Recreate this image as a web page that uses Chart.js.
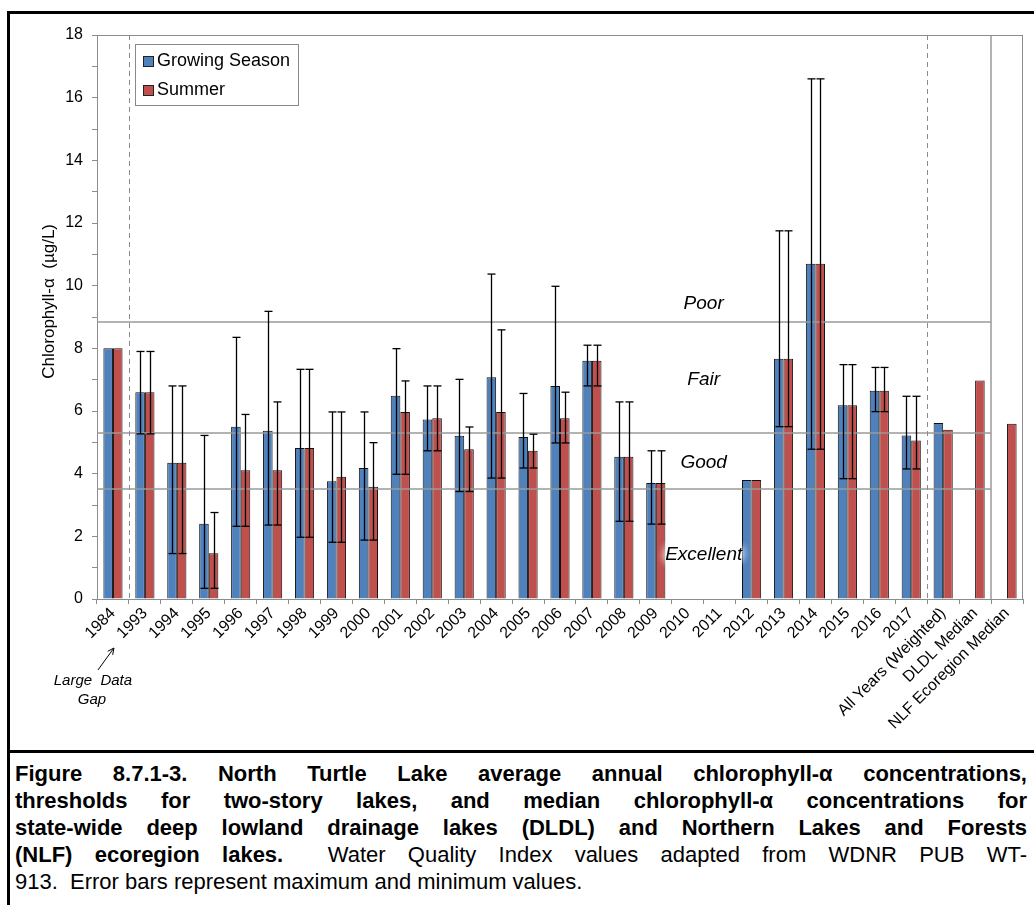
<!DOCTYPE html>
<html>
<head>
<meta charset="utf-8">
<script src="https://cdn.jsdelivr.net/npm/chart.js@4/dist/chart.umd.min.js"></script>
<style>
  body { margin: 0; background: #fff; }
  #page { position: relative; width: 1034px; height: 905px; overflow: hidden; font-family: "Liberation Sans", Arial, sans-serif; }
  #frame { position: absolute; left: 7px; top: 11px; width: 1040px; height: 900px; border: 3px solid #000; box-sizing: border-box; }
  #rule { position: absolute; left: 7px; top: 750px; width: 1040px; height: 3px; background: #000; }
  #chart { position: absolute; left: 0; top: 0; }
  #caption { position: absolute; left: 15px; top: 760px; width: 1012px; font-size: 22px; line-height: 27px; color: #000; }
  #caption .ln { white-space: nowrap; }
  #caption .j { text-align: justify; text-align-last: justify; }
</style>
</head>
<body>
<div id="page">
  <div id="frame"></div>
  <canvas id="chart" width="1034" height="750"></canvas>
  <div id="rule"></div>
  <div id="caption">
    <div class="ln j"><b>Figure 8.7.1-3. North Turtle Lake average annual chlorophyll-α concentrations,</b></div>
    <div class="ln j"><b>thresholds for two-story lakes, and median chlorophyll-α concentrations for</b></div>
    <div class="ln j"><b>state-wide deep lowland drainage lakes (DLDL) and Northern Lakes and Forests</b></div>
    <div class="ln j"><b>(NLF) ecoregion lakes.</b>&nbsp; Water Quality Index values adapted from WDNR PUB WT-</div>
    <div class="ln">913.&nbsp; Error bars represent maximum and minimum values.</div>
  </div>
</div>
<script>
const categories = ['1984', '1993', '1994', '1995', '1996', '1997', '1998', '1999', '2000',
  '2001', '2002', '2003', '2004', '2005', '2006', '2007', '2008', '2009', '2010', '2011',
  '2012', '2013', '2014', '2015', '2016', '2017',
  'All Years (Weighted)', 'DLDL Median', 'NLF Ecoregion Median'];

const growingSeason = [8.0, 6.6, 4.35, 2.4, 5.5, 5.37, 4.82, 3.76, 4.18,
  6.49, 5.73, 5.21, 7.08, 5.17, 6.8, 7.6, 4.54, 3.7, null, null,
  3.8, 7.67, 10.7, 6.18, 6.65, 5.22,
  5.62, null, null];
const summer = [8.0, 6.6, 4.35, 1.46, 4.11, 4.11, 4.82, 3.9, 3.58,
  5.97, 5.77, 4.78, 5.97, 4.73, 5.77, 7.6, 4.54, 3.7, null, null,
  3.8, 7.67, 10.7, 6.18, 6.65, 5.06,
  5.4, 6.97, 5.59];

// error bars: max / min of each year's samples
const growingMax = [null, 7.9, 6.8, 5.22, 8.35, 9.18, 7.33, 5.97, 5.97,
  7.99, 6.8, 7.01, 10.37, 6.56, 9.98, 8.1, 6.29, 4.73, null, null,
  null, 11.75, 16.6, 7.48, 7.39, 6.47, null, null, null];
const growingMin = [null, 5.27, 1.45, 0.34, 2.32, 2.36, 1.97, 1.81, 1.88,
  3.98, 4.73, 3.43, 3.86, 4.18, 4.98, 6.8, 2.48, 2.39, null, null,
  null, 5.5, 4.78, 3.84, 5.98, 4.15, null, null, null];
const summerMax = [null, 7.9, 6.8, 2.76, 5.89, 6.29, 7.33, 5.97, 4.99,
  6.96, 6.8, 5.49, 8.59, 5.26, 6.6, 8.1, 6.29, 4.73, null, null,
  null, 11.75, 16.6, 7.48, 7.39, 6.47, null, null, null];
const summerMin = [null, 5.27, 1.45, 0.34, 2.32, 2.36, 1.97, 1.81, 1.88,
  3.98, 4.73, 3.43, 3.86, 4.18, 4.98, 6.8, 2.48, 2.39, null, null,
  null, 5.5, 4.78, 3.84, 5.98, 4.15, null, null, null];

// Water Quality Index boundaries (Poor/Fair, Fair/Good, Good/Excellent)
const thresholds = [8.83, 5.3, 3.51];
const qualityLabels = ['Poor', 'Fair', 'Good', 'Excellent'];
const qualityLabelAt = [9.42, 6.99, 4.35, 1.4];

const FONT = '"Liberation Sans", Arial, sans-serif';
const BLUE = '#4F81BD';
const RED = '#C0504D';
const AXIS = '#8c8c8c';

function line(ctx, x1, y1, x2, y2) {
  ctx.beginPath();
  ctx.moveTo(x1, y1);
  ctx.lineTo(x2, y2);
  ctx.stroke();
}

const overlay = {
  id: 'overlay',
  afterDatasetsDraw(chart) {
    const { ctx, chartArea: a, scales: { x, y } } = chart;
    const mid = (i, j) => (x.getPixelForValue(i) + x.getPixelForValue(j)) / 2;
    const gapX = Math.round(mid(0, 1)) + 0.5;
    const allX = Math.round(mid(25, 26)) + 0.5;
    const nlfX = Math.round(mid(27, 28));
    ctx.save();

    // index thresholds
    ctx.strokeStyle = '#9a9a9a';
    ctx.lineWidth = 1.5;
    thresholds.forEach(v => {
      const py = Math.round(y.getPixelForValue(v));
      line(ctx, a.left, py, nlfX, py);
    });

    // separators
    ctx.lineWidth = 1;
    ctx.strokeStyle = '#8a8a8a';
    ctx.setLineDash([5, 4]);
    line(ctx, gapX, a.top, gapX, a.bottom);
    line(ctx, allX, a.top, allX, a.bottom);
    ctx.setLineDash([]);
    ctx.lineWidth = 1.5;
    ctx.strokeStyle = '#9a9a9a';
    line(ctx, nlfX, a.top, nlfX, a.bottom);

    // min / max error bars
    ctx.strokeStyle = '#000';
    ctx.lineWidth = 1.3;
    [[0, growingMax, growingMin], [1, summerMax, summerMin]].forEach(([d, hi, lo]) => {
      chart.getDatasetMeta(d).data.forEach((bar, i) => {
        if (hi[i] == null) return;
        const yt = y.getPixelForValue(hi[i]);
        const yb = y.getPixelForValue(lo[i]);
        const bx = Math.round(bar.x) + 0.5;
        line(ctx, bx, yt, bx, yb);
        line(ctx, bx - 4, yt, bx + 4, yt);
        line(ctx, bx - 4, yb, bx + 4, yb);
      });
    });

    // quality labels
    const lx = mid(18, 19);
    ctx.font = 'italic 19px ' + FONT;
    ctx.textAlign = 'center';
    ctx.textBaseline = 'middle';
    qualityLabels.forEach((t, i) => {
      const ly = y.getPixelForValue(qualityLabelAt[i]);
      if (t === 'Excellent') {
        ctx.save();
        ctx.shadowColor = '#fff';
        ctx.shadowBlur = 8;
        ctx.fillStyle = '#fff';
        for (let k = 0; k < 4; k++) ctx.fillText(t, lx, ly);
        ctx.restore();
      }
      ctx.fillStyle = '#000';
      ctx.fillText(t, lx, ly);
    });
    ctx.restore();
  },
  afterDraw(chart) {
    const { ctx, chartArea: a, scales: { x, y } } = chart;
    ctx.save();

    // plot frame (top and right)
    ctx.strokeStyle = AXIS;
    ctx.lineWidth = 1;
    line(ctx, a.left, a.top + 0.5, a.right, a.top + 0.5);
    line(ctx, a.right - 0.5, a.top, a.right - 0.5, a.bottom);

    // y axis title
    ctx.save();
    ctx.translate(49, y.getPixelForValue(9.5));
    ctx.rotate(-Math.PI / 2);
    ctx.font = '17px ' + FONT;
    ctx.fillStyle = '#000';
    ctx.textAlign = 'center';
    ctx.textBaseline = 'middle';
    ctx.fillText('Chlorophyll-α  (µg/L)', 0, 0);
    ctx.restore();

    // legend
    const lgX = a.left + 38, lgY = a.top + 9;
    ctx.fillStyle = '#fff';
    ctx.fillRect(lgX, lgY, 163, 61);
    ctx.strokeStyle = '#8a8a8a';
    ctx.strokeRect(lgX + 0.5, lgY + 0.5, 163, 61);
    ctx.font = '18px ' + FONT;
    ctx.textAlign = 'left';
    ctx.textBaseline = 'middle';
    chart.data.datasets.forEach((ds, i) => {
      const ry = lgY + 12 + i * 29;
      ctx.fillStyle = ds.backgroundColor;
      ctx.fillRect(lgX + 8, ry, 10, 10);
      ctx.strokeStyle = '#222';
      ctx.strokeRect(lgX + 8.5, ry + 0.5, 10, 10);
      ctx.fillStyle = '#000';
      ctx.fillText(ds.label, lgX + 22, ry + 5);
    });

    // note under the first gap
    const gx = (x.getPixelForValue(0) + x.getPixelForValue(1)) / 2;
    const tail = [gx - 31, a.bottom + 71], head = [gx - 15, a.bottom + 49];
    ctx.strokeStyle = '#000';
    ctx.lineWidth = 1;
    line(ctx, tail[0], tail[1], head[0], head[1]);
    const ang = Math.atan2(head[1] - tail[1], head[0] - tail[0]);
    [0.45, -0.45].forEach(d => {
      line(ctx, head[0], head[1], head[0] - 7 * Math.cos(ang + d), head[1] - 7 * Math.sin(ang + d));
    });
    ctx.font = 'italic 15px ' + FONT;
    ctx.textAlign = 'center';
    ctx.fillStyle = '#000';
    ctx.fillText('Large  Data', gx - 36, a.bottom + 82);
    ctx.fillText('Gap', gx - 37, a.bottom + 101);
    ctx.restore();
  }
};

new Chart(document.getElementById('chart').getContext('2d'), {
  type: 'bar',
  data: {
    labels: categories,
    datasets: [
      {
        label: 'Growing Season',
        data: growingSeason,
        backgroundColor: BLUE,
        borderColor: '#111',
        borderWidth: 1,
        categoryPercentage: 0.6,
        barPercentage: 1.0,
      },
      {
        label: 'Summer',
        data: summer,
        backgroundColor: RED,
        borderColor: '#111',
        borderWidth: 1,
        categoryPercentage: 0.6,
        barPercentage: 1.0,
      },
    ],
  },
  options: {
    responsive: false,
    animation: false,
    layout: { padding: { top: 35, right: 11, left: 0, bottom: 0 } },
    plugins: {
      legend: { display: false },
      tooltip: { enabled: false },
    },
    scales: {
      x: {
        offset: true,
        afterFit: s => { s.height = 151; },
        grid: { offset: true, drawOnChartArea: false, tickLength: 5, color: AXIS },
        border: { color: AXIS, width: 1 },
        ticks: {
          autoSkip: false,
          minRotation: 45,
          maxRotation: 45,
          padding: 0,
          color: '#000',
          font: { size: 16, family: FONT },
        },
      },
      y: {
        min: 0,
        max: 18,
        afterFit: s => { s.width = 97; },
        grid: { drawOnChartArea: false, tickLength: 5, color: AXIS },
        border: { color: AXIS, width: 1 },
        ticks: {
          stepSize: 1,
          padding: 9,
          color: '#000',
          font: { size: 16, family: FONT },
          callback: v => (v % 2 === 0 ? v : ''),
        },
      },
    },
  },
  plugins: [overlay],
});
</script>
</body>
</html>
